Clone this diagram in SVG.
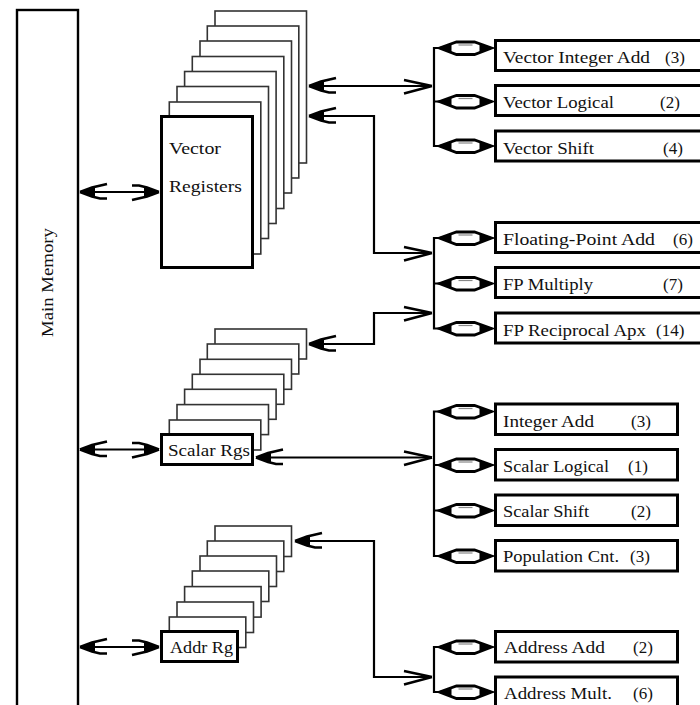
<svg xmlns="http://www.w3.org/2000/svg" xmlns:xlink="http://www.w3.org/1999/xlink" width="700" height="705" viewBox="0 0 700 705">
<style>
text{font-family:"Liberation Serif","Times New Roman",serif;font-size:17px;fill:#111}
.m{fill:#fff;stroke:#000;stroke-width:2.4}
.f{fill:#fff;stroke:#000;stroke-width:3}
.b{fill:#fff;stroke:#333;stroke-width:1.6}
.c{fill:none;stroke:#000;stroke-width:2.2}
.o{fill:#fff;stroke:#000;stroke-width:3}
</style>
<defs>
<marker id="heavy" markerUnits="userSpaceOnUse" markerWidth="34" markerHeight="20" viewBox="-30 -10 34 20" refX="0" refY="0" orient="auto-start-reverse">
<path d="M0 0L-15 -5L-15 5Z" fill="#000"/>
<path d="M0 0L-12 -4.500L-20 -6.500L-27 -6.500M0 0L-12 4.500L-27 8" fill="none" stroke="#000" stroke-width="2.600"/>
</marker>
<marker id="light" markerUnits="userSpaceOnUse" markerWidth="34" markerHeight="20" viewBox="-30 -10 34 20" refX="0" refY="0" orient="auto">
<path d="M0 0L-28 -6M0 0L-28 7.500" fill="none" stroke="#000" stroke-width="2.500"/>
</marker>
<g id="dia">
<path d="M-26 0L-9 -6L9 -6L26 0L9 6.500L-9 6.500Z" fill="#fff" stroke="#000" stroke-width="2.800"/>
<path d="M-29 0L-14 -4.500V4.500Z M29 0L14 -4.500V4.500Z" fill="#000"/>
<path d="M-7 -3H7" stroke="#888" stroke-width="1.200"/>
</g>
</defs>
<g id="main-memory">
<rect class="m" x="17" y="10" width="61" height="705"/>
<text transform="translate(53,337) rotate(-90)" textLength="109" lengthAdjust="spacingAndGlyphs">Main Memory</text>
</g>
<g id="vector-registers">
<rect class="b" x="215" y="11" width="91.500" height="152"/>
<rect class="b" x="207.300" y="26" width="91.500" height="152"/>
<rect class="b" x="200" y="41" width="91.500" height="152"/>
<rect class="b" x="192.300" y="56.500" width="91.500" height="152"/>
<rect class="b" x="184.600" y="71.500" width="91.500" height="152"/>
<rect class="b" x="177" y="86.500" width="91.500" height="152"/>
<rect class="b" x="169.300" y="102" width="91.500" height="152"/>
<rect class="f" x="161.500" y="116.500" width="91" height="151"/>
<text x="169" y="154" textLength="52" lengthAdjust="spacingAndGlyphs">Vector</text>
<text x="169" y="192" textLength="73" lengthAdjust="spacingAndGlyphs">Registers</text>
</g>
<g id="scalar-registers">
<rect class="b" x="215" y="329" width="91.500" height="30"/>
<rect class="b" x="207.300" y="344" width="91.500" height="30"/>
<rect class="b" x="200" y="359.300" width="91.500" height="30"/>
<rect class="b" x="192.300" y="374.300" width="91.500" height="30"/>
<rect class="b" x="184.600" y="389.300" width="91.500" height="30"/>
<rect class="b" x="177" y="404.600" width="91.500" height="30"/>
<rect class="b" x="169.300" y="420" width="91.500" height="30"/>
<rect class="f" x="161.500" y="434.500" width="91" height="30"/>
<text x="168" y="456" textLength="82" lengthAdjust="spacingAndGlyphs">Scalar Rgs</text>
</g>
<g id="address-registers">
<rect class="b" x="215" y="526" width="76.500" height="30.500"/>
<rect class="b" x="207.300" y="541" width="76.500" height="30.500"/>
<rect class="b" x="200" y="556" width="76.500" height="30.500"/>
<rect class="b" x="192.300" y="571" width="76.500" height="30.500"/>
<rect class="b" x="184.600" y="586.600" width="76.500" height="30.500"/>
<rect class="b" x="177" y="602" width="76.500" height="30.500"/>
<rect class="b" x="169.300" y="617" width="76.500" height="30.500"/>
<rect class="f" x="161.500" y="631.500" width="76" height="30"/>
<text x="170" y="653" textLength="63" lengthAdjust="spacingAndGlyphs">Addr Rg</text>
</g>
<g id="connectors">
<path class="c" d="M80 192H159" marker-start="url(#heavy)" marker-end="url(#heavy)"/>
<path class="c" d="M80 449.500H159" marker-start="url(#heavy)" marker-end="url(#heavy)"/>
<path class="c" d="M80 647H159" marker-start="url(#heavy)" marker-end="url(#heavy)"/>
<path class="c" d="M309 86H432" marker-start="url(#heavy)" marker-end="url(#light)"/>
<path class="c" d="M309 116H374V253H432" marker-start="url(#heavy)" marker-end="url(#light)"/>
<path class="c" d="M309 344H374V313H432" marker-start="url(#heavy)" marker-end="url(#light)"/>
<path class="c" d="M256 457.500H432" marker-start="url(#heavy)" marker-end="url(#light)"/>
<path class="c" d="M295 541H374V677H432" marker-start="url(#heavy)" marker-end="url(#light)"/>
<path class="c" d="M440 48H434V146H440M434 101.500H440"/>
<path class="c" d="M440 238H434V328.500H440M434 283.500H440"/>
<path class="c" d="M440 411.500H434V556H440M434 465H440M434 510.500H440"/>
<path class="c" d="M440 647H434V692H440"/>
<use xlink:href="#dia" href="#dia" x="465.500" y="48"/>
<use xlink:href="#dia" href="#dia" x="465.500" y="101.500"/>
<use xlink:href="#dia" href="#dia" x="465.500" y="146"/>
<use xlink:href="#dia" href="#dia" x="465.500" y="238"/>
<use xlink:href="#dia" href="#dia" x="465.500" y="283.500"/>
<use xlink:href="#dia" href="#dia" x="465.500" y="328.500"/>
<use xlink:href="#dia" href="#dia" x="465.500" y="411.500"/>
<use xlink:href="#dia" href="#dia" x="465.500" y="465"/>
<use xlink:href="#dia" href="#dia" x="465.500" y="510.500"/>
<use xlink:href="#dia" href="#dia" x="465.500" y="556"/>
<use xlink:href="#dia" href="#dia" x="465.500" y="647"/>
<use xlink:href="#dia" href="#dia" x="465.500" y="692"/>
</g>
<g id="fu-vector-integer-add"><rect class="o" x="495.500" y="40.500" width="210" height="30"/><text y="63"><tspan x="503" textLength="147" lengthAdjust="spacingAndGlyphs">Vector Integer Add</tspan><tspan x="665">(3)</tspan></text></g>
<g id="fu-vector-logical"><rect class="o" x="495.500" y="85.500" width="210" height="30"/><text y="108"><tspan x="503" textLength="111" lengthAdjust="spacingAndGlyphs">Vector Logical</tspan><tspan x="660">(2)</tspan></text></g>
<g id="fu-vector-shift"><rect class="o" x="495.500" y="131" width="210" height="30"/><text y="154"><tspan x="503" textLength="91" lengthAdjust="spacingAndGlyphs">Vector Shift</tspan><tspan x="663">(4)</tspan></text></g>
<g id="fu-floating-point-add"><rect class="o" x="495.500" y="222.500" width="210" height="30"/><text y="245"><tspan x="503" textLength="152" lengthAdjust="spacingAndGlyphs">Floating-Point Add</tspan><tspan x="673">(6)</tspan></text></g>
<g id="fu-fp-multiply"><rect class="o" x="495.500" y="267.500" width="210" height="30"/><text y="290"><tspan x="503" textLength="90" lengthAdjust="spacingAndGlyphs">FP Multiply</tspan><tspan x="663">(7)</tspan></text></g>
<g id="fu-fp-reciprocal-apx"><rect class="o" x="495.500" y="313" width="210" height="30"/><text y="336"><tspan x="503" textLength="143" lengthAdjust="spacingAndGlyphs">FP Reciprocal Apx</tspan><tspan x="656">(14)</tspan></text></g>
<g id="fu-integer-add"><rect class="o" x="495.500" y="404" width="182" height="30.500"/><text y="427"><tspan x="503" textLength="91" lengthAdjust="spacingAndGlyphs">Integer Add</tspan><tspan x="631">(3)</tspan></text></g>
<g id="fu-scalar-logical"><rect class="o" x="495.500" y="449.500" width="182" height="30.500"/><text y="472"><tspan x="503" textLength="106" lengthAdjust="spacingAndGlyphs">Scalar Logical</tspan><tspan x="628">(1)</tspan></text></g>
<g id="fu-scalar-shift"><rect class="o" x="495.500" y="495" width="182" height="30.500"/><text y="517"><tspan x="503" textLength="86" lengthAdjust="spacingAndGlyphs">Scalar Shift</tspan><tspan x="631">(2)</tspan></text></g>
<g id="fu-population-cnt"><rect class="o" x="495.500" y="540.500" width="182" height="30.500"/><text y="562"><tspan x="503" textLength="116" lengthAdjust="spacingAndGlyphs">Population Cnt.</tspan><tspan x="630">(3)</tspan></text></g>
<g id="fu-address-add"><rect class="o" x="495.500" y="631.500" width="182" height="30.500"/><text y="653"><tspan x="504" textLength="101" lengthAdjust="spacingAndGlyphs">Address Add</tspan><tspan x="633">(2)</tspan></text></g>
<g id="fu-address-mult"><rect class="o" x="495.500" y="677" width="182" height="40"/><text y="699"><tspan x="504" textLength="108" lengthAdjust="spacingAndGlyphs">Address Mult.</tspan><tspan x="633">(6)</tspan></text></g>
</svg>
